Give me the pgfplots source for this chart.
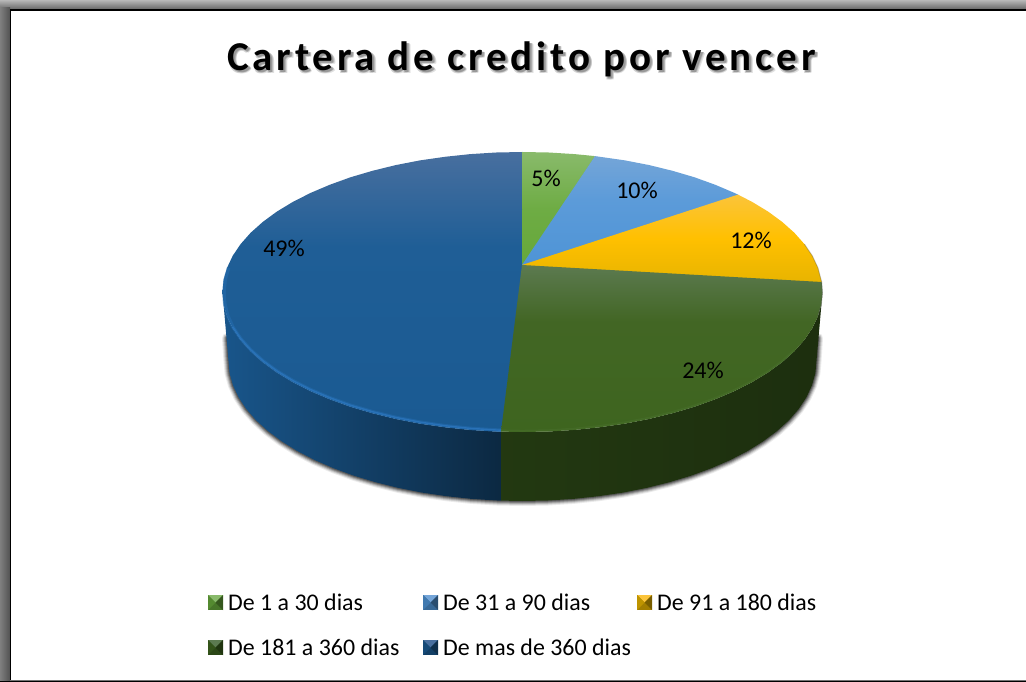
\documentclass[border=0pt]{standalone}
\usepackage{pgfplots}
\pgfplotsset{compat=1.18}
\usetikzlibrary{fadings}
\usepackage{fontspec}
\setmainfont{Carlito}
\newfontfamily\titlefont[LetterSpace=9.3]{Carlito}
\definecolor{gA}{RGB}{137,186,107}\definecolor{gB}{RGB}{110,172,68}\definecolor{gC}{RGB}{102,168,58}
\definecolor{bA}{RGB}{116,165,216}\definecolor{bB}{RGB}{92,155,217}\definecolor{bC}{RGB}{78,148,214}
\definecolor{yA}{RGB}{251,196,58}\definecolor{yB}{RGB}{255,192,0}\definecolor{yC}{RGB}{232,180,0}
\definecolor{dA}{RGB}{92,122,80}\definecolor{dB}{RGB}{66,102,36}\definecolor{dC}{RGB}{62,101,31}
\definecolor{nA}{RGB}{72,111,159}\definecolor{nB}{RGB}{31,94,150}\definecolor{nC}{RGB}{26,90,146}
\pgfdeclareverticalshading{sg}{100bp}{color(0bp)=(gC); color(25bp)=(gC); color(50bp)=(gB); color(75bp)=(gA); color(100bp)=(gA)}
\pgfdeclareverticalshading{sb}{100bp}{color(0bp)=(bC); color(25bp)=(bC); color(55bp)=(bB); color(75bp)=(bA); color(100bp)=(bA)}
\pgfdeclareverticalshading{sy}{100bp}{color(0bp)=(yC); color(25bp)=(yC); color(50bp)=(yB); color(75bp)=(yA); color(100bp)=(yA)}
\pgfdeclareverticalshading{sd}{100bp}{color(0bp)=(dC); color(25bp)=(dC); color(58bp)=(dB); color(75bp)=(dA); color(100bp)=(dA)}
\pgfdeclareverticalshading{sn}{100bp}{color(0bp)=(nC); color(25bp)=(nC); color(58bp)=(nB); color(75bp)=(nA); color(100bp)=(nA)}
\newcommand{\legmark}[4]{%
 \fill[#4!70!black] (axis cs:#1,#2) rectangle (axis cs:#1+15,#2+15);
 \fill[#3] (axis cs:#1,#2) -- (axis cs:#1+15,#2) -- (axis cs:#1+7.5,#2+7.5) -- cycle;
 \fill[#4!82!black] (axis cs:#1,#2) -- (axis cs:#1,#2+15) -- (axis cs:#1+7.5,#2+7.5) -- cycle;
 \fill[#4!52!black] (axis cs:#1+15,#2) -- (axis cs:#1+15,#2+15) -- (axis cs:#1+7.5,#2+7.5) -- cycle;
}
\newcommand{\titletext}{\titlefont\bfseries\fontsize{41}{48}\selectfont Cartera de credito por vencer}
\begin{document}
\begin{tikzfadingfrompicture}[name=titleshadow]
\node[text=transparent!88] at (3.5pt,-3.5pt) {\titletext};
\node[text=transparent!82] at (1pt,-3.5pt) {\titletext};
\node[text=transparent!75] at (3pt,-2.5pt) {\titletext};
\node[text=transparent!60] at (2pt,-2.5pt) {\titletext};
\end{tikzfadingfrompicture}%
\begin{tikzpicture}
\begin{axis}[scale only axis,width=1026pt,height=682pt,xmin=0,xmax=1026,ymin=0,ymax=682,y dir=reverse,hide axis,clip=true,no markers]
% frame
\fill[top color=black!28,bottom color=black!62] (axis cs:0,0) rectangle (axis cs:1026,10);
\fill[left color=black!50,right color=black!68] (axis cs:0,8) rectangle (axis cs:10,682);
\fill[black] (axis cs:9.5,9.5) rectangle (axis cs:1026,11);
\fill[black] (axis cs:9.5,9.5) rectangle (axis cs:11,682);
\fill[black!55] (axis cs:10,680) rectangle (axis cs:1026,681);
\fill[black] (axis cs:0,681) rectangle (axis cs:1026,682);
% shadow under the pie
\foreach \w/\o in {10/0.08,8/0.12,6/0.18,4/0.25,2/0.3}{
\edef\tmp{\noexpand\addplot[draw=black,opacity=\o,line width=\w pt,line join=round,line cap=round,forget plot] coordinates {
(227,338)(228.5,361)(229.6,373.2)(233,385.3)(238.5,397.2)(246.2,408.9)(256,420.2)(267.9,431)(281.7,441.3)(297.3,451)(314.6,460)(333.5,468.2)(353.9,475.7)(375.5,482.2)(398.3,487.9)(422,492.6)(446.4,496.2)(471.5,498.9)(496.9,500.5)(522.5,501)(548.1,500.5)(573.5,498.9)(598.6,496.2)(623,492.6)(646.7,487.9)(669.5,482.2)(691.1,475.7)(711.5,468.2)(730.4,460)(747.7,451)(763.3,441.3)(777.1,431)(789,420.2)(798.8,408.9)(806.5,397.2)(812,385.3)(815.4,373.2)(816.5,361)(818,338)
};}\tmp}
% side, blue
\addplot[draw=none,left color=nC!95!black,middle color=nC!62!black,right color=nC!45!black] coordinates {
(222.5,292)(223.6,304.2)(227.1,316.3)(232.7,328.2)(240.6,339.9)(250.6,351.2)(262.7,362)(276.7,372.3)(292.7,382)(310.4,391)(329.7,399.2)(350.4,406.7)(372.5,413.2)(395.7,418.9)(419.9,423.6)(444.9,427.2)(470.4,429.9)(496.3,431.5)(501,431.6)
(501,500.6)(496.9,500.5)(471.5,498.9)(446.4,496.2)(422,492.6)(398.3,487.9)(375.5,482.2)(353.9,475.7)(333.5,468.2)(314.6,460)(297.3,451)(281.7,441.3)(267.9,431)(256,420.2)(246.2,408.9)(238.5,397.2)(233,385.3)(229.6,373.2)(228.5,361)
} -- cycle;
% side, dark green
\addplot[draw=none,left color=dC!56!black,middle color=dC!38!black,right color=dC!46!black] coordinates {
(822.5,292)(821.4,304.2)(817.9,316.3)(812.3,328.2)(804.4,339.9)(794.4,351.2)(782.3,362)(768.3,372.3)(752.3,382)(734.6,391)(715.3,399.2)(694.6,406.7)(672.5,413.2)(649.3,418.9)(625.1,423.6)(600.1,427.2)(574.6,429.9)(548.7,431.5)(522.5,432)(501,431.6)
(501,500.6)(522.5,501)(548.1,500.5)(573.5,498.9)(598.6,496.2)(623,492.6)(646.7,487.9)(669.5,482.2)(691.1,475.7)(711.5,468.2)(730.4,460)(747.7,451)(763.3,441.3)(777.1,431)(789,420.2)(798.8,408.9)(806.5,397.2)(812,385.3)(815.4,373.2)(816.5,361)
} -- cycle;
% seams under the faces
\addplot[draw=nB,line width=1.5pt] coordinates {(522,265)(501,431)};
\addplot[draw=yC,line width=1.5pt] coordinates {(522,265)(821,282)};
\addplot[draw=bB,line width=1.5pt] coordinates {(522,265)(737,195)};
\addplot[draw=gB,line width=1.5pt] coordinates {(522,265)(594.5,157)};
\addplot[draw=nA!50!gB,line width=1.5pt] coordinates {(522,265)(522.5,153)};
% top faces
\addplot[draw=none,shade,shading=sn] coordinates {
(522,265)(501,431.6)(496.3,431.5)(470.4,429.9)(444.9,427.2)(419.9,423.6)(395.7,418.9)(372.5,413.2)(350.4,406.7)(329.7,399.2)(310.4,391)(292.7,382)(276.7,372.3)(262.7,362)(250.6,351.2)(240.6,339.9)(232.7,328.2)(227.1,316.3)(223.6,304.2)(222.5,292)(223.6,279.8)(227.1,267.7)(232.7,255.8)(240.6,244.1)(250.6,232.8)(262.7,222)(276.7,211.7)(292.7,202)(310.4,193)(329.7,184.8)(350.4,177.3)(372.5,170.8)(395.7,165.1)(419.9,160.4)(444.9,156.8)(470.4,154.1)(496.3,152.5)(522.5,152)
} -- cycle;
\addplot[draw=none,shade,shading=sg] coordinates {
(522,265)(522.5,152)(548.7,152.5)(574.6,154.1)(595,156.1)
} -- cycle;
\addplot[draw=none,shade,shading=sb] coordinates {
(522,265)(595,156.1)(600.1,156.8)(625.1,160.4)(649.3,165.1)(672.5,170.8)(694.6,177.3)(715.3,184.8)(734.6,193)(738,194.6)
} -- cycle;
\addplot[draw=none,shade,shading=sy] coordinates {
(522,265)(738,194.6)(752.3,202)(768.3,211.7)(782.3,222)(794.4,232.8)(804.4,244.1)(812.3,255.8)(817.9,267.7)(821.7,282)
} -- cycle;
\addplot[draw=none,shade,shading=sd] coordinates {
(522,265)(821.7,282)(822.5,292)(821.4,304.2)(817.9,316.3)(812.3,328.2)(804.4,339.9)(794.4,351.2)(782.3,362)(768.3,372.3)(752.3,382)(734.6,391)(715.3,399.2)(694.6,406.7)(672.5,413.2)(649.3,418.9)(625.1,423.6)(600.1,427.2)(574.6,429.9)(548.7,431.5)(522.5,432)(501,431.6)
} -- cycle;
% bevel on the rim
\addplot[draw={rgb,255:red,38;green,112;blue,182},line width=3.5pt,opacity=.45] coordinates {
(501,430.1)(496.3,430)(470.4,428.4)(444.9,425.7)(419.9,422.1)(395.7,417.4)(372.5,411.7)(350.4,405.2)(329.7,397.7)(310.4,389.5)(292.7,380.5)(276.7,370.8)(262.7,360.5)(250.6,349.7)(240.6,338.4)(232.7,326.7)(227.6,315.3)(224.6,303.2)(224,292)(225.1,279.8)(228.6,267.7)
};
\addplot[draw={rgb,255:red,44;green,118;blue,190},line width=1.4pt,opacity=.8] coordinates {
(501,430.1)(496.3,430)(470.4,428.4)(444.9,425.7)(419.9,422.1)(395.7,417.4)(372.5,411.7)(350.4,405.2)(329.7,397.7)(310.4,389.5)(292.7,380.5)(276.7,370.8)(262.7,360.5)(250.6,349.7)(240.6,338.4)(232.7,326.7)
};
\addplot[draw={rgb,255:red,72;green,112;blue,44},line width=2pt,opacity=.5] coordinates {
(501,430.4)(522.5,430.8)(548.7,430.3)(574.6,428.7)(600.1,426)(625.1,422.4)(649.3,417.7)(672.5,412)(694.6,405.5)(715.3,398)(734.6,389.8)(752.3,380.8)(768.3,371.1)(782.3,360.8)(794.4,350)
};
\addplot[draw=black!70,line width=1pt,opacity=.3] coordinates {
(804.4,244.1)(812.3,255.8)(817.9,267.7)(821.7,282)(822.5,292)(821.4,304.2)(817.9,316.3)
};
% data labels
\node[font=\fontsize{24}{28}\selectfont] at (axis cs:546,178) {5\%};
\node[font=\fontsize{24}{28}\selectfont] at (axis cs:637,190) {10\%};
\node[font=\fontsize{24}{28}\selectfont] at (axis cs:751,240) {12\%};
\node[font=\fontsize{24}{28}\selectfont] at (axis cs:703,370) {24\%};
\node[font=\fontsize{24}{28}\selectfont] at (axis cs:284,248) {49\%};
% title: its soft shadow is a fill seen through a fading, and the text itself is one node
\fill[black,path fading=titleshadow,fit fading=false,fading transform={shift={(523.75pt,-62pt)}}] (axis cs:121,12) rectangle (axis cs:921,108);
\node at (axis cs:521.5,59) {\titletext};
% legend
\legmark{208}{595}{gA}{gC}
\legmark{423}{595}{bA}{bC}
\legmark{637}{595}{yA}{yC}
\legmark{208}{640}{dA}{dC}
\legmark{423}{640}{nA}{nC}
\node[anchor=west,inner sep=0pt,font=\fontsize{23.9}{28}\selectfont] at (axis cs:228,602) {De 1 a 30 dias};
\node[anchor=west,inner sep=0pt,font=\fontsize{23.9}{28}\selectfont] at (axis cs:443,602) {De 31 a 90 dias};
\node[anchor=west,inner sep=0pt,font=\fontsize{23.9}{28}\selectfont] at (axis cs:657,602) {De 91 a 180 dias};
\node[anchor=west,inner sep=0pt,font=\fontsize{23.9}{28}\selectfont] at (axis cs:228,647) {De 181 a 360 dias};
\node[anchor=west,inner sep=0pt,font=\fontsize{23.9}{28}\selectfont] at (axis cs:443,647) {De mas de 360 dias};
\end{axis}
\end{tikzpicture}
\end{document}
